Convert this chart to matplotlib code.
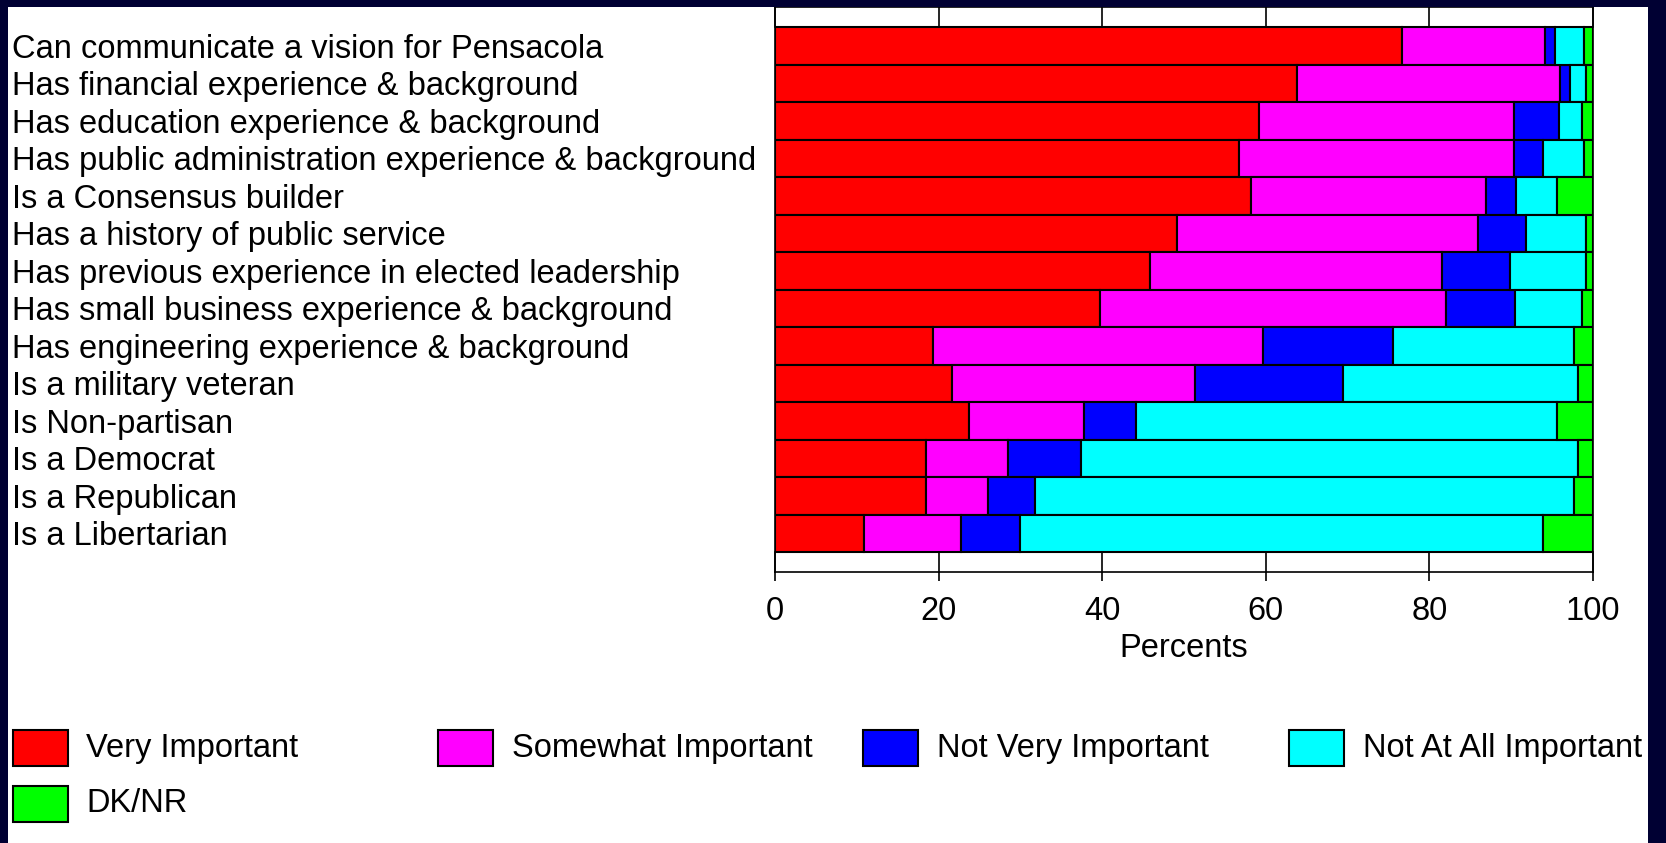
import numpy as np
import matplotlib
matplotlib.use("Agg")
from matplotlib import pyplot as plt
from matplotlib.patches import Rectangle

plt.rcParams['font.family'] = ['Liberation Sans', 'DejaVu Sans']

items = [
    "Can communicate a vision for Pensacola",
    "Has financial experience & background",
    "Has education experience & background",
    "Has public administration experience & background",
    "Is a Consensus builder",
    "Has a history of public service",
    "Has previous experience in elected leadership",
    "Has small business experience & background",
    "Has engineering experience & background",
    "Is a military veteran",
    "Is Non-partisan",
    "Is a Democrat",
    "Is a Republican",
    "Is a Libertarian",
]

categories = ["Very Important", "Somewhat Important", "Not Very Important",
              "Not At All Important", "DK/NR"]
colors = ["#ff0000", "#ff00ff", "#0000ff", "#00ffff", "#00ff00"]

very = [76.6, 63.8, 59.2, 56.7, 58.2, 49.2, 45.8, 39.7, 19.3, 21.6, 23.7, 18.4, 18.4, 10.9]
somewhat = [17.5, 32.2, 31.2, 33.7, 28.7, 36.7, 35.7, 42.3, 40.4, 29.7, 14.1, 10.1, 7.7, 11.8]
not_very = [1.2, 1.2, 5.5, 3.5, 3.7, 5.9, 8.3, 8.5, 15.8, 18.1, 6.3, 8.9, 5.7, 7.2]
not_at_all = [3.6, 2.0, 2.8, 5.0, 5.0, 7.4, 9.4, 8.1, 22.2, 28.8, 51.5, 60.8, 65.9, 64.0]
dk_nr = [1.1, 0.8, 1.3, 1.1, 4.4, 0.8, 0.8, 1.4, 2.3, 1.8, 4.4, 1.8, 2.3, 6.1]

xticks = [0, 20, 40, 60, 80, 100]

W, H = 1666, 843
fig = plt.figure(figsize=(W / 100, H / 100), dpi=100, facecolor='white')

ax_left, ax_right = 775 / W, 1593 / W
ax_top, ax_bottom = 1 - 7.3 / H, 1 - 572 / H
ax = fig.add_axes([ax_left, ax_bottom, ax_right - ax_left, ax_top - ax_bottom])

series = [very, somewhat, not_very, not_at_all, dk_nr]
ypos = np.arange(len(items))[::-1]
left = np.zeros(len(items))
for vals, col in zip(series, colors):
    vals = np.array(vals)
    ax.barh(ypos, vals, left=left, height=1.0, color=col,
            edgecolor='black', linewidth=1.5)
    left += vals

ypad = 1.03
ax.set_xlim(0, 100)
ax.set_ylim(-ypad, len(items) - 1 + ypad)

fs = 23.5
ax.set_xticks(xticks)
ax.set_xticklabels([str(t) for t in xticks], fontsize=fs)
ax.tick_params(axis='x', direction='out', length=6.5, width=1.2,
               top=False, pad=11)
# inner tick marks in the empty strips above and below the bars
for t in xticks:
    ax.plot([t, t], [len(items) - 0.5, len(items) - 1 + ypad], color='black',
            lw=1.2, clip_on=False, zorder=1)
    ax.plot([t, t], [-ypad, -0.5], color='black', lw=1.2,
            clip_on=False, zorder=1)
ax.set_xlabel("Percents", fontsize=fs, labelpad=4)

ax.set_yticks(ypos)
ax.set_yticklabels(items, fontsize=fs, ha='left')
ax.tick_params(axis='y', length=0, pad=(775 - 12.5) * 0.72)

for s in ax.spines.values():
    s.set_linewidth(1.2)

# legend drawn by hand in a 4-column grid
sq_w, sq_h = 55, 36
col_x = 12.5
col_step = 425.4
row_y = [730, 786]
for i, (lab, col) in enumerate(zip(categories, colors)):
    r, c = divmod(i, 4)
    x0 = col_x + c * col_step
    y0 = row_y[r]
    fig.patches.append(Rectangle((x0 / W, 1 - (y0 + sq_h) / H), sq_w / W, sq_h / H,
                                 transform=fig.transFigure, facecolor=col,
                                 edgecolor='black', linewidth=1.5, zorder=3))
    fig.text((x0 + 74) / W, 1 - (y0 + sq_h / 2) / H, lab, fontsize=fs,
             ha='left', va='center', zorder=3)

# dark frame around the picture
navy = '#000033'
for rect in [(0, 0, 7.5, H), (0, 0, W, 7.3), (1648, 0, W - 1648, H)]:
    x, y, w, h = rect
    fig.patches.append(Rectangle((x / W, 1 - (y + h) / H), w / W, h / H,
                                 transform=fig.transFigure, facecolor=navy,
                                 edgecolor='none', zorder=10))

fig.savefig("out.png", dpi=100, facecolor=fig.get_facecolor())
